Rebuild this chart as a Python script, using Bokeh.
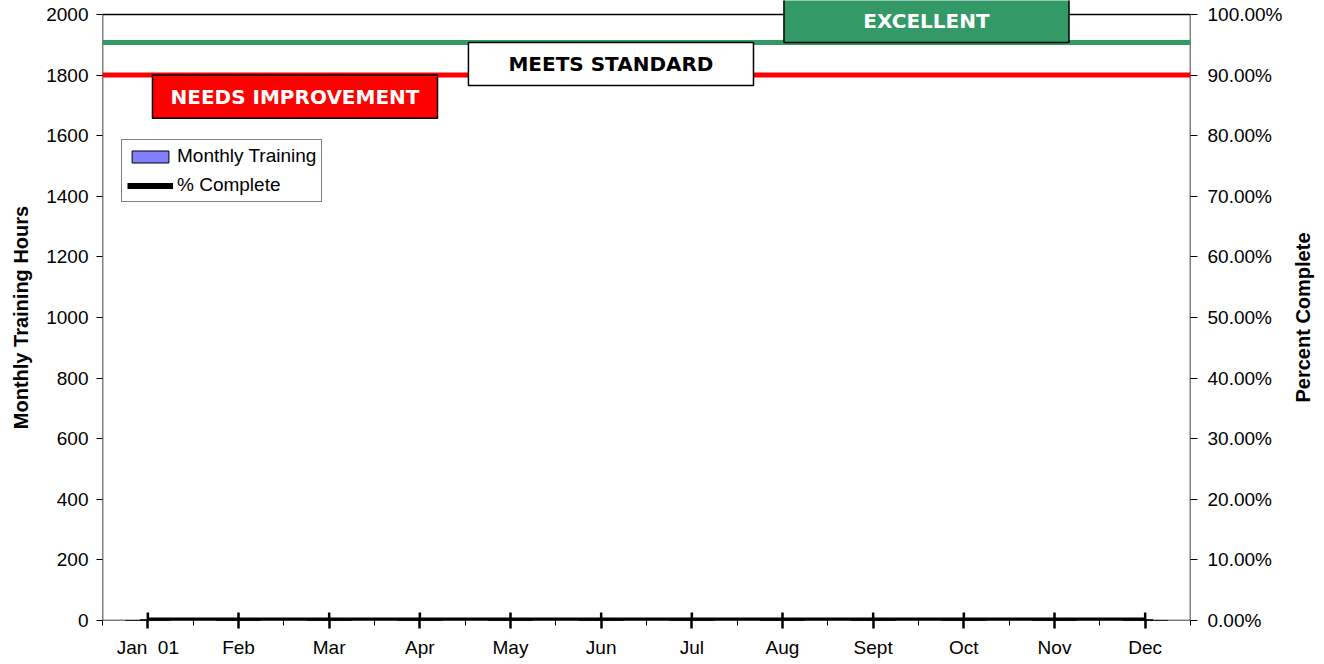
import math
from bokeh.plotting import figure
from bokeh.models import (Range1d, LinearAxis, FixedTicker, NumeralTickFormatter, Span,
                          BoxAnnotation, Label, Legend, LegendItem)
from bokeh.embed import file_html
from bokeh.resources import INLINE

# ---- data ----
months = ["Jan\u00a0 01", "Feb", "Mar", "Apr", "May", "Jun", "Jul", "Aug", "Sept", "Oct", "Nov", "Dec"]
training_hours = [0, 0, 0, 0, 0, 0, 0, 0, 0, 0, 0, 0]
pct_complete = [0, 0, 0, 0, 0, 0, 0, 0, 0, 0, 0, 0]
hours_ticks = [0, 200, 400, 600, 800, 1000, 1200, 1400, 1600, 1800, 2000]
pct_ticks = [0.0, 0.1, 0.2, 0.3, 0.4, 0.5, 0.6, 0.7, 0.8, 0.9, 1.0]
needs_improvement_pct = 0.90
excellent_pct = 0.954
band_labels = ["NEEDS IMPROVEMENT", "MEETS STANDARD", "EXCELLENT"]

FONT = "Liberation Sans"
xs = [i + 0.5 for i in range(len(months))]
HOURS_MAX = hours_ticks[-1]
PCT_MAX = pct_ticks[-1]
HEADROOM = 620 / 606  # frame runs to the very top of the page; axes stop at the max tick

p = figure(width=1324, height=664, x_range=Range1d(0, len(months)),
           y_range=Range1d(0, HOURS_MAX * HEADROOM),
           output_backend="svg", toolbar_location=None,
           min_border_left=102, min_border_right=134, min_border_top=0, min_border_bottom=44,
           background_fill_color="white", border_fill_color="white",
           outline_line_color=None)
p.extra_y_ranges = {"pct": Range1d(0, PCT_MAX * HEADROOM)}
p.xgrid.visible = False
p.ygrid.visible = False

# plot-area border (from axis minimum to axis maximum)
p.add_layout(BoxAnnotation(left=0, right=len(months), bottom=0, top=HOURS_MAX,
                           fill_alpha=0, line_color="black", line_alpha=1, line_width=1.5,
                           level="underlay"))

# threshold lines
p.add_layout(Span(location=excellent_pct, dimension="width", y_range_name="pct",
                  line_color="#339966", line_width=5))
p.add_layout(Span(location=needs_improvement_pct, dimension="width", y_range_name="pct",
                  line_color="#FF0000", line_width=5))

# band label boxes
box_h = 0.071
half_w = 1.572
boxes = [
    (2.123, needs_improvement_pct, "#FF0000", "white"),
    (5.608, excellent_pct, "white", "black"),
    (9.088, excellent_pct + box_h, "#339966", "white"),
]
for (cx, top, fill, tcolor), txt in zip(boxes, band_labels):
    p.add_layout(BoxAnnotation(left=cx - half_w, right=cx + half_w, top=top, bottom=top - box_h,
                               y_range_name="pct", fill_color=fill, fill_alpha=1,
                               line_color="black", line_alpha=1, line_width=1.5))
    p.add_layout(Label(x=cx, y=top - box_h / 2, y_range_name="pct", text=txt,
                       text_align="center", text_baseline="middle",
                       text_font="DejaVu Sans", text_font_style="bold",
                       text_font_size="20px", text_color=tcolor))

# series
bars = p.vbar(x=xs, top=training_hours, width=0.5, fill_color="#8080FF", line_color="black")
line = p.line(xs, pct_complete, y_range_name="pct", line_color="black", line_width=6)
pts = p.scatter(xs, pct_complete, y_range_name="pct", marker="cross", size=16,
                line_color="black", line_width=2.5)

# left axis
ya = p.yaxis[0]
ya.ticker = FixedTicker(ticks=hours_ticks)
ya.major_label_text_font = FONT
ya.major_label_text_font_size = "19px"
ya.major_label_text_color = "black"
ya.major_label_standoff = 8
ya.major_tick_out = 6
ya.major_tick_in = 0
ya.minor_tick_line_color = None
ya.axis_line_color = None
ya.major_tick_line_color = "black"

# right axis
ra = LinearAxis(y_range_name="pct", ticker=FixedTicker(ticks=pct_ticks),
                formatter=NumeralTickFormatter(format="0.00%"))
ra.major_label_text_font = FONT
ra.major_label_text_font_size = "19px"
ra.major_label_text_color = "black"
ra.major_label_standoff = 10
ra.major_tick_out = 7
ra.major_tick_in = 0
ra.minor_tick_line_color = None
ra.axis_line_color = None
p.add_layout(ra, "right")

# axis titles, both reading bottom-to-top, centred on the plotted axis span
title_style = dict(y_range_name="pct", y=PCT_MAX / 2, angle=math.pi / 2,
                   text_align="center", text_baseline="middle",
                   text_font=FONT, text_font_style="bold", text_font_size="20px",
                   text_color="black")
p.add_layout(Label(x=-len(months) * 82 / 1088, text="Monthly Training Hours", **title_style), "left")
p.add_layout(Label(x=len(months) * 1200 / 1088, text="Percent Complete", **title_style), "right")

# bottom axis
xa = p.xaxis[0]
xa.ticker = FixedTicker(ticks=xs, minor_ticks=list(range(len(months) + 1)))
xa.major_label_overrides = {x: m for x, m in zip(xs, months)}
xa.major_label_text_font = FONT
xa.major_label_text_font_size = "19px"
xa.major_label_text_color = "black"
xa.major_label_standoff = 8
xa.major_tick_out = 8
xa.major_tick_in = 0
xa.major_tick_line_width = 2.5
xa.minor_tick_out = 5
xa.minor_tick_in = 0
xa.axis_line_color = None

legend = Legend(items=[LegendItem(label="Monthly Training", renderers=[bars]),
                       LegendItem(label="% Complete", renderers=[line, pts])],
                location=(19, 418), border_line_color="black", border_line_width=1,
                background_fill_color="white", background_fill_alpha=1,
                label_text_font=FONT, label_text_font_size="19px", label_text_color="black",
                glyph_width=46, glyph_height=15, label_standoff=4,
                padding=5, spacing=7, margin=0)
p.add_layout(legend)

open("out.html", "w").write(file_html(p, INLINE))
